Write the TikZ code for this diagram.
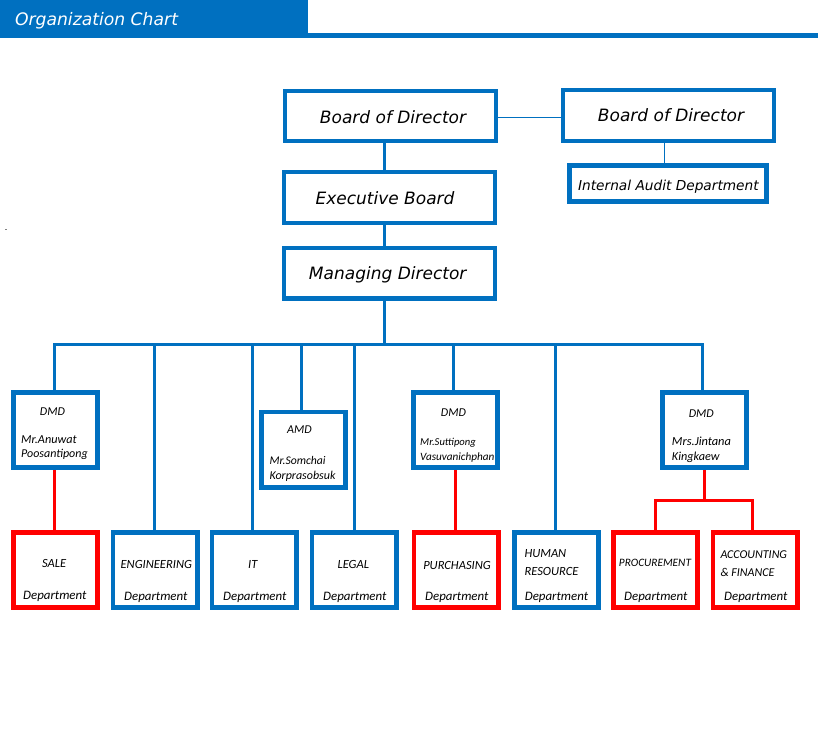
\documentclass[tikz,border=0pt]{standalone}
\usepackage{fontspec}
\setmainfont{Carlito}
\newfontfamily\bigf{DejaVu Sans}
\definecolor{cblue}{HTML}{0070C0}
\definecolor{cred}{HTML}{FF0000}
\tikzset{
  bigbox/.style={draw=cblue, line width=4.2pt, inner sep=0pt, fill=white},
  smallbox/.style={draw=cblue, line width=4.6pt, inner sep=0pt, fill=white, minimum width=84.4pt, minimum height=75.4pt},
  redbox/.style={smallbox, draw=cred},
  conn/.style={draw=cblue, line width=3pt},
  rconn/.style={draw=cred, line width=3pt},
  thinconn/.style={draw=cblue, line width=1.2pt},
  bigtxt/.style={font=\bigf\itshape\fontsize{17}{20}\selectfont, inner sep=0pt, anchor=base},
  smtxt/.style={font=\itshape\fontsize{12.5}{15}\selectfont, inner sep=0pt, anchor=base},
  smtxtl/.style={smtxt, anchor=base west},
}
\begin{document}
\begin{tikzpicture}[x=1pt,y=-1pt]
\useasboundingbox (0,0) rectangle (818,750);
% header
\fill[cblue] (0,0) rectangle (308,33);
\fill[cblue] (0,33) rectangle (818,37.7);
\node[font=\bigf\itshape\fontsize{17.2}{20}\selectfont, text=white, inner sep=0pt, anchor=base] (title) at (96.5,25.5) {Organization Chart};
\fill[gray] (5,228.7) rectangle (7,229.7);
% top boxes
\node[bigbox, minimum width=210.8pt, minimum height=49.8pt] (bod1) at (390.5,116) {};
\node[bigbox, minimum width=210.8pt, minimum height=50.8pt] (bod2) at (668.5,115.5) {};
\node[bigbox, line width=4.6pt, minimum width=197.4pt, minimum height=36.4pt] (audit) at (668,183.5) {};
\node[bigbox, minimum width=210.8pt, minimum height=50.8pt] (exec) at (389.5,197.5) {};
\node[bigbox, minimum width=210.8pt, minimum height=50.5pt] (md) at (389.5,273.3) {};
\node[bigtxt] (tbod1) at (393,123.3) {Board of Director};
\node[bigtxt] (tbod2) at (671,121.7) {Board of Director};
\node[bigtxt, font=\bigf\itshape\fontsize{13.7}{16}\selectfont] (taudit) at (668.4,190) {Internal Audit Department};
\node[bigtxt] (texec) at (385,204) {Executive Board};
\node[bigtxt] (tmd) at (387.7,279.3) {Managing Director};
% middle boxes
\node[smallbox] (dmd1) at (55.5,430) {};
\node[smallbox] (amd) at (303.5,449.7) {};
\node[smallbox] (dmd2) at (455.5,430) {};
\node[smallbox] (dmd3) at (704.5,430) {};
\node[smtxt, font=\itshape\fontsize{12}{14}\selectfont] (t1a) at (52.5,415) {DMD};
\node[smtxtl, font=\itshape\fontsize{12.2}{14}\selectfont] (t1b) at (21,443.3) {Mr.Anuwat};
\node[smtxtl, font=\itshape\fontsize{12}{14}\selectfont] (t1c) at (21,457.3) {Poosantipong};
\node[smtxt, font=\itshape\fontsize{12}{14}\selectfont] (t2a) at (299.5,433.3) {AMD};
\node[smtxtl, font=\itshape\fontsize{11.7}{14}\selectfont] (t2b) at (269.3,464) {Mr.Somchai};
\node[smtxtl, font=\itshape\fontsize{12}{14}\selectfont] (t2c) at (269.3,479) {Korprasobsuk};
\node[smtxt, font=\itshape\fontsize{12}{14}\selectfont] (t3a) at (453.5,416) {DMD};
\node[smtxtl, font=\itshape\fontsize{10.6}{13}\selectfont] (t3b) at (420,445.7) {Mr.Suttipong};
\node[smtxtl, font=\itshape\fontsize{11.2}{13}\selectfont] (t3c) at (420,460) {Vasuvanichphan};
\node[smtxt, font=\itshape\fontsize{12}{14}\selectfont] (t4a) at (701.3,417.3) {DMD};
\node[smtxtl, font=\itshape\fontsize{12.4}{14}\selectfont] (t4b) at (671.7,445) {Mrs.Jintana};
\node[smtxtl, font=\itshape\fontsize{12.2}{14}\selectfont] (t4c) at (671.7,460) {Kingkaew};
% bottom boxes
\node[redbox] (sale) at (55.5,570) {};
\node[smallbox] (eng) at (155.2,570) {};
\node[smallbox] (it) at (254.3,570) {};
\node[smallbox] (legal) at (354.3,570) {};
\node[redbox] (purch) at (456.3,570) {};
\node[smallbox] (hr) at (556.5,570) {};
\node[redbox] (proc) at (655.5,570) {};
\node[redbox] (acc) at (755.3,570) {};
\node[smtxt] (s1) at (54.2,567.3) {SALE};
\node[smtxt] (s2) at (156.3,568.3) {ENGINEERING};
\node[smtxt] (s3) at (252.8,568.3) {IT};
\node[smtxt] (s4) at (353.3,568.3) {LEGAL};
\node[smtxt] (s5) at (457,569.3) {PURCHASING};
\node[smtxtl] (s6a) at (524.3,557.3) {HUMAN};
\node[smtxtl] (s6b) at (524.3,575.3) {RESOURCE};
\node[smtxt, font=\itshape\fontsize{11.3}{14}\selectfont] (s7) at (655,566.7) {PROCUREMENT};
\node[smtxtl, font=\itshape\fontsize{12}{14}\selectfont] (s8a) at (720.3,558.3) {ACCOUNTING};
\node[smtxtl, font=\itshape\fontsize{12}{14}\selectfont] (s8b) at (720.3,576) {\& FINANCE};
\node[smtxt, font=\itshape\fontsize{12.9}{15}\selectfont] (d1) at (54.8,599.5) {Department};
\node[smtxt, font=\itshape\fontsize{12.9}{15}\selectfont] (d2) at (155.8,600) {Department};
\node[smtxt, font=\itshape\fontsize{12.9}{15}\selectfont] (d3) at (254.8,600) {Department};
\node[smtxt, font=\itshape\fontsize{12.9}{15}\selectfont] (d4) at (354.8,600) {Department};
\node[smtxt, font=\itshape\fontsize{12.9}{15}\selectfont] (d5) at (456.8,600) {Department};
\node[smtxt, font=\itshape\fontsize{12.9}{15}\selectfont] (d6) at (556.5,600) {Department};
\node[smtxt, font=\itshape\fontsize{12.9}{15}\selectfont] (d7) at (655.8,600) {Department};
\node[smtxt, font=\itshape\fontsize{12.9}{15}\selectfont] (d8) at (755.8,600) {Department};
% connectors
\coordinate (lb) at (0,117.3);
\draw[thinconn] (bod1.east |- lb) -- (bod2.west |- lb);
\coordinate (va) at (664.7,0);
\draw[thinconn] (va |- bod2.south) -- (va |- audit.north);
\coordinate (vm) at (384.5,0);
\draw[conn] (vm |- bod1.south) -- (vm |- exec.north);
\draw[conn] (vm |- exec.south) -- (vm |- md.north);
\coordinate (busM) at (384.7,344.2);
\coordinate (busL) at (54.5,344.2);
\coordinate (busR) at (702.3,344.2);
\draw[conn] (busM |- md.south) -- (busM);
\draw[conn] (busL |- dmd1.north) -- (busL) -- (busR) -- (busR |- dmd3.north);
\coordinate (dEng) at (154.5,344.2);
\coordinate (dIt) at (252.5,344.2);
\coordinate (dAmd) at (301.3,344.2);
\coordinate (dLegal) at (354,344.2);
\coordinate (dDmd2) at (453.7,344.2);
\coordinate (dHr) at (555.7,344.2);
\draw[conn] (dEng) -- (dEng |- eng.north);
\draw[conn] (dIt) -- (dIt |- it.north);
\draw[conn] (dAmd) -- (dAmd |- amd.north);
\draw[conn] (dLegal) -- (dLegal |- legal.north);
\draw[conn] (dDmd2) -- (dDmd2 |- dmd2.north);
\draw[conn] (dHr) -- (dHr |- hr.north);
\coordinate (rS) at (54,0);
\draw[rconn] (rS |- dmd1.south) -- (rS |- sale.north);
\coordinate (rP) at (455.5,0);
\draw[rconn] (rP |- dmd2.south) -- (rP |- purch.north);
\coordinate (rJ) at (704,500.7);
\coordinate (rJL) at (655.3,500.7);
\coordinate (rJR) at (752.3,500.7);
\draw[rconn] (rJ |- dmd3.south) -- (rJ);
\draw[rconn] (rJL |- proc.north) -- (rJL) -- (rJR) -- (rJR |- acc.north);
\end{tikzpicture}
\end{document}
